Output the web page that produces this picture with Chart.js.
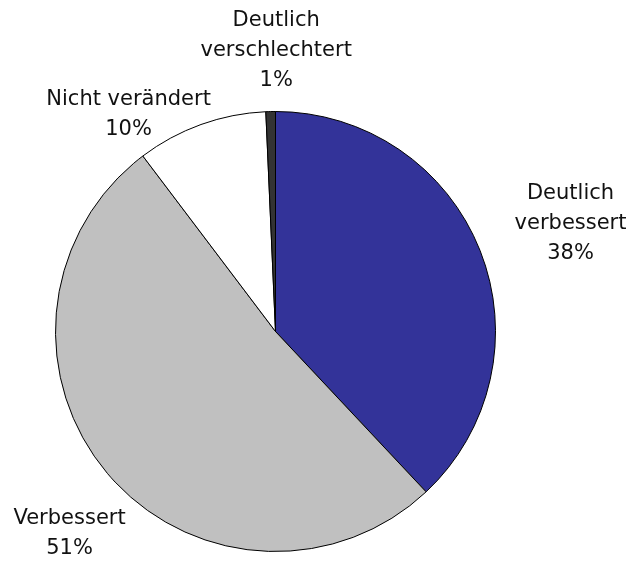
<!DOCTYPE html>
<html>
<head>
<meta charset="utf-8">
<script src="https://cdn.jsdelivr.net/npm/chart.js@4/dist/chart.umd.min.js"></script>
<style>
  html, body { margin: 0; padding: 0; background: #ffffff; }
  #wrap { width: 636px; height: 561px; }
</style>
</head>
<body>
<div id="wrap"><canvas id="c" width="636" height="561"></canvas></div>
<script>
// Categories (clockwise from 12 o'clock)
const categories = ["Deutlich verbessert", "Verbessert", "Nicht verändert", "Deutlich verschlechtert"];
// Slice shares (%)
const values = [38.0, 51.7, 9.6, 0.7];
// Printed percentage labels
const percentLabels = ["38%", "51%", "10%", "1%"];
// Label lines as shown in the picture
const labelLines = [
  ["Deutlich", "verbessert", "38%"],
  ["Verbessert", "51%"],
  ["Nicht verändert", "10%"],
  ["Deutlich", "verschlechtert", "1%"]
];
const colors = ["#333399", "#C0C0C0", "#FFFFFF", "#333333"];

// label placement: radial distance as factor of outer radius, angular nudge (deg)
const labelPlacement = [
  { r: 1.428, da: 1.5 },
  { r: 1.311, da: -4.3 },
  { r: 1.191, da: -14.3 },
  { r: 1.278, da: 1.4 }
];

const outsideLabels = {
  id: 'outsideLabels',
  afterDatasetsDraw(chart) {
    const ctx = chart.ctx;
    const meta = chart.getDatasetMeta(0);
    ctx.save();
    ctx.font = '21px "DejaVu Sans", sans-serif';
    ctx.fillStyle = '#111111';
    ctx.textAlign = 'center';
    ctx.textBaseline = 'middle';
    const lh = 30;
    meta.data.forEach((arc, i) => {
      const p = arc.getProps(['x', 'y', 'startAngle', 'endAngle', 'outerRadius'], true);
      const mid = (p.startAngle + p.endAngle) / 2 + labelPlacement[i].da * Math.PI / 180;
      const d = p.outerRadius * labelPlacement[i].r;
      const cx = p.x + Math.cos(mid) * d;
      const cy = p.y + Math.sin(mid) * d;
      const lines = labelLines[i];
      const top = cy - (lines.length - 1) * lh / 2;
      lines.forEach((t, j) => ctx.fillText(t, cx, top + j * lh));
    });
    ctx.restore();
  }
};

new Chart(document.getElementById('c'), {
  type: 'pie',
  data: {
    labels: categories,
    datasets: [{
      data: values,
      backgroundColor: colors,
      borderColor: '#000000',
      borderWidth: 1,
      borderAlign: 'center'
    }]
  },
  options: {
    responsive: false,
    animation: false,
    layout: { padding: { left: 55, right: 140, top: 111, bottom: 9 } },
    plugins: {
      legend: { display: false },
      tooltip: { enabled: false }
    }
  },
  plugins: [outsideLabels]
});
</script>
</body>
</html>
